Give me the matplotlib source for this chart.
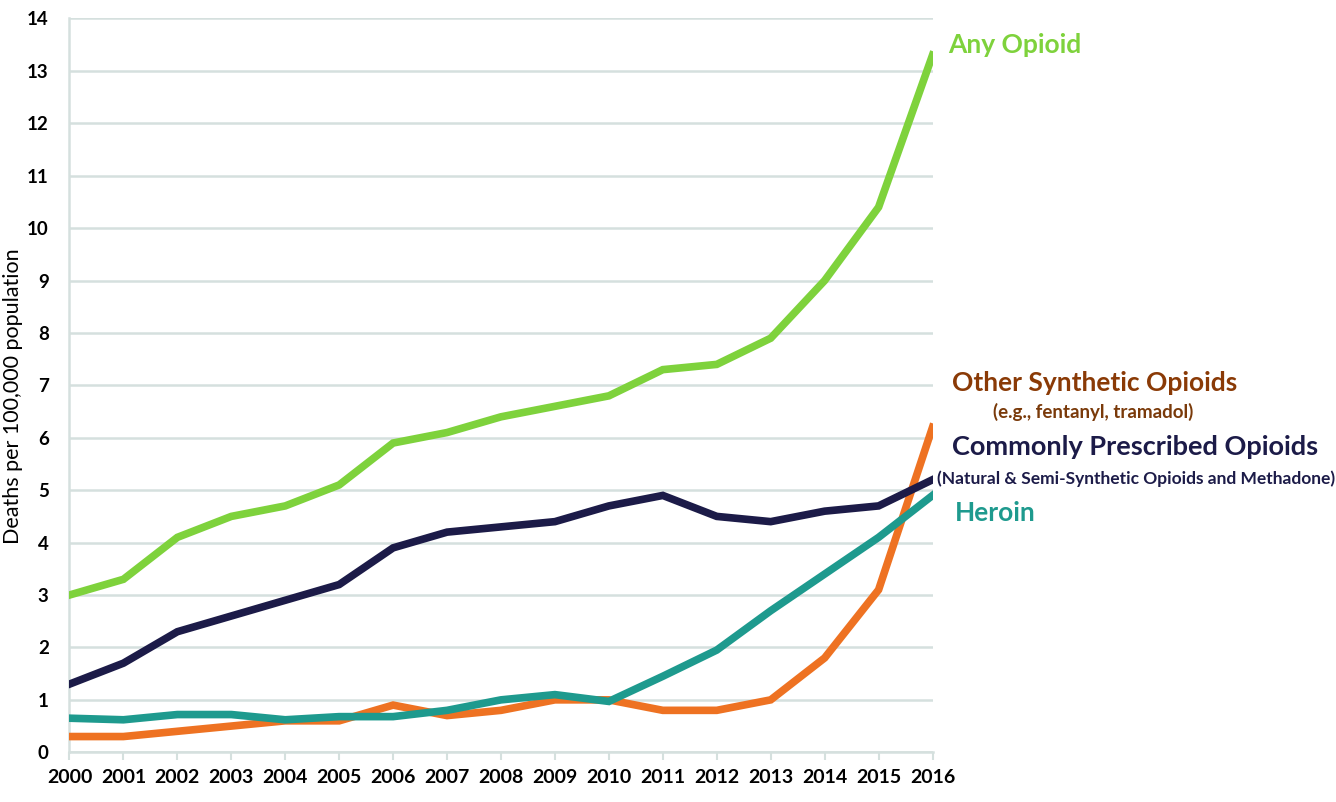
import matplotlib
matplotlib.use("Agg")
import matplotlib.pyplot as plt

years = list(range(2000, 2017))
any_opioid = [3.0, 3.3, 4.1, 4.5, 4.7, 5.1, 5.9, 6.1, 6.4, 6.6, 6.8, 7.3, 7.4, 7.9, 9.0, 10.4, 13.3]
prescribed = [1.3, 1.7, 2.3, 2.6, 2.9, 3.2, 3.9, 4.2, 4.3, 4.4, 4.7, 4.9, 4.5, 4.4, 4.6, 4.7, 5.2]
heroin = [0.65, 0.62, 0.72, 0.72, 0.62, 0.68, 0.68, 0.8, 1.0, 1.1, 0.97, 1.45, 1.95, 2.7, 3.4, 4.1, 4.9]
synthetic = [0.3, 0.3, 0.4, 0.5, 0.6, 0.6, 0.9, 0.7, 0.8, 1.0, 1.0, 0.8, 0.8, 1.0, 1.8, 3.1, 6.2]
y_ticks = list(range(0, 15))

c_any = "#7ED23C"
c_pres = "#1C1B48"
c_her = "#1E9A8E"
c_syn = "#EE7222"

plt.rcParams['font.family'] = ['Lato', 'DejaVu Sans']

fig = plt.figure(figsize=(13.36, 8.02), dpi=100)
ax = fig.add_axes([0.052, 0.062, 0.646, 0.915])

lw = 5.5
ax.plot(years, any_opioid, color=c_any, lw=lw, solid_joinstyle='miter', zorder=3)
ax.plot(years, synthetic, color=c_syn, lw=lw, solid_joinstyle='miter', zorder=4)
ax.plot(years, heroin, color=c_her, lw=lw, solid_joinstyle='miter', zorder=5)
ax.plot(years, prescribed, color=c_pres, lw=lw, solid_joinstyle='miter', zorder=6)

ax.set_xlim(2000, 2016)
ax.set_ylim(0, 14)
ax.set_yticks(y_ticks)
ax.set_xticks(years)
ax.set_xticklabels([str(y) for y in years], fontsize=14, fontweight='bold')
ax.set_yticklabels([str(v) for v in y_ticks], fontsize=13.5, fontweight='bold')
ax.grid(axis='y', color='#D5E0DE', lw=1.8)
ax.set_axisbelow(True)
for s in ['top', 'right']:
    ax.spines[s].set_visible(False)
ax.spines['left'].set_color('#D5E0DE')
ax.spines['left'].set_linewidth(1.8)
ax.spines['bottom'].set_color('#D5E0DE')
ax.spines['bottom'].set_linewidth(1.8)
ax.tick_params(axis='y', length=0, pad=15)
ax.tick_params(axis='x', length=6, width=1.5, color='#D5E0DE', pad=6, direction='out')
ax.set_ylabel('Deaths per 100,000 population', fontsize=15.5, fontweight='normal')
ax.yaxis.set_label_coords(-0.054, 0.485)

fig.text(948/1336, 1-45/802, 'Any Opioid', color=c_any, fontsize=19, fontweight='bold', va='center', ha='left')
fig.text(952/1336, 1-383/802, 'Other Synthetic Opioids', color='#8A3A06', fontsize=19, fontweight='bold', va='center', ha='left')
fig.text(993/1336, 1-412/802, '(e.g., fentanyl, tramadol)', color='#7A3A0A', fontsize=13.5, fontweight='bold', va='center', ha='left')
fig.text(952/1336, 1-447/802, 'Commonly Prescribed Opioids', color=c_pres, fontsize=19.5, fontweight='bold', va='center', ha='left')
fig.text(937/1336, 1-479/802, '(Natural & Semi-Synthetic Opioids and Methadone)', color=c_pres, fontsize=12.5, fontweight='bold', va='center', ha='left')
fig.text(955/1336, 1-513/802, 'Heroin', color=c_her, fontsize=19, fontweight='bold', va='center', ha='left')

fig.savefig('out.png', dpi=100)
